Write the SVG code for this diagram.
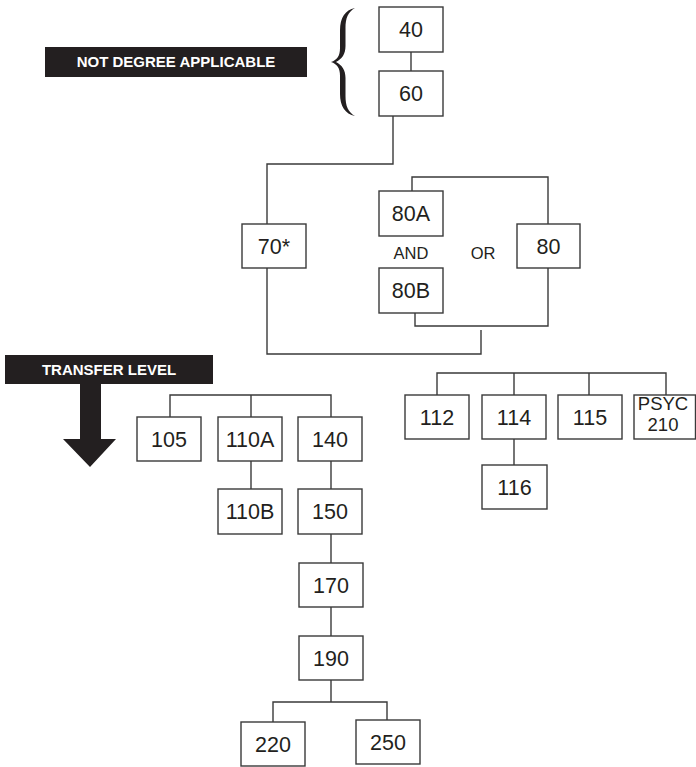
<svg xmlns="http://www.w3.org/2000/svg" width="696" height="767" viewBox="0 0 696 767">
<style>
.box{fill:#fff;stroke:#3a3a3a;stroke-width:1.4}
.num{font-family:"Liberation Sans",Arial,sans-serif;font-size:21.5px;fill:#231f20;text-anchor:middle}
.small{font-family:"Liberation Sans",Arial,sans-serif;font-size:18.5px;fill:#231f20;text-anchor:middle}
.lab{font-family:"Liberation Sans",Arial,sans-serif;font-size:16.5px;fill:#231f20;text-anchor:middle}
.band{fill:#231f20}
.bandtxt{font-family:"Liberation Sans",Arial,sans-serif;font-size:15px;font-weight:bold;fill:#fff;text-anchor:middle}
.conn path{fill:none;stroke:#3a3a3a;stroke-width:1.4}
</style>
<rect width="696" height="767" fill="#fff"/>
<g id="labels">
<g id="not-degree">
<rect class="band" x="45" y="47" width="262" height="30"/>
<text class="bandtxt" x="176" y="67.3">NOT DEGREE APPLICABLE</text>
</g>
<path id="brace" fill="#231f20" d="M355,8 C345,10 340,18 340,30 L340,48 C340,56 337,60 331,62 C337,64 340,68 340,76 L340,94 C340,106 345,114 355,116 C348,112 345.5,106 345.5,96 L345.5,78 C345.5,70 342,65 336,62 C342,59 345.5,54 345.5,46 L345.5,28 C345.5,18 348,12 355,8 Z"/>
<g id="transfer">
<rect class="band" x="5" y="355" width="208" height="29"/>
<text class="bandtxt" x="109" y="375">TRANSFER LEVEL</text>
<polygon class="band" points="80,384 101,384 101,439 116,439 90,467 63,439 80,439"/>
</g>
</g>
<g class="conn" id="connectors">
<path d="M411,52 V71"/>
<path d="M393,116 V164 H267 V224"/>
<path d="M267,268 V354 H481 V330"/>
<path d="M412,191 V177 H548 V224"/>
<path d="M415,313 V326 H548 V268"/>
<path d="M170,417 V395 H331 V417 M251,395 V417"/>
<path d="M251,461 V489"/>
<path d="M331,461 V489"/>
<path d="M331,534 V563"/>
<path d="M331,607 V636"/>
<path d="M331,680 V702 M273,722 V702 H387 V720"/>
<path d="M437,395 V373 H666 V395 M514,373 V395 M589,373 V395"/>
<path d="M514,439 V465"/>
</g>
<g id="n40"><rect class="box" x="379" y="7" width="64" height="45"/><text class="num" x="411" y="37.3">40</text></g>
<g id="n60"><rect class="box" x="379" y="71" width="64" height="45"/><text class="num" x="411" y="101.3">60</text></g>
<g id="n70"><rect class="box" x="242" y="224" width="64" height="44"/><text class="num" x="274" y="253.8">70*</text></g>
<g id="n80A"><rect class="box" x="379" y="191" width="64" height="45"/><text class="num" x="411" y="221.3">80A</text></g>
<g id="n80B"><rect class="box" x="379" y="268" width="64" height="45"/><text class="num" x="411" y="298.3">80B</text></g>
<g id="n80"><rect class="box" x="517" y="224" width="63" height="44"/><text class="num" x="548.5" y="253.8">80</text></g>
<text class="lab" x="411" y="259.3">AND</text>
<text class="lab" x="483" y="259.3">OR</text>
<g id="n105"><rect class="box" x="137" y="417" width="64" height="44"/><text class="num" x="169" y="446.8">105</text></g>
<g id="n110A"><rect class="box" x="218" y="417" width="64" height="44"/><text class="num" x="250" y="446.8">110A</text></g>
<g id="n140"><rect class="box" x="298" y="417" width="64" height="44"/><text class="num" x="330" y="446.8">140</text></g>
<g id="n110B"><rect class="box" x="218" y="489" width="64" height="45"/><text class="num" x="250" y="519.3">110B</text></g>
<g id="n150"><rect class="box" x="298" y="489" width="64" height="45"/><text class="num" x="330" y="519.3">150</text></g>
<g id="n170"><rect class="box" x="299" y="563" width="64" height="44"/><text class="num" x="331" y="592.8">170</text></g>
<g id="n190"><rect class="box" x="299" y="636" width="64" height="44"/><text class="num" x="331" y="665.8">190</text></g>
<g id="n220"><rect class="box" x="241" y="722" width="64" height="44"/><text class="num" x="273" y="751.8">220</text></g>
<g id="n250"><rect class="box" x="356" y="720" width="64" height="44"/><text class="num" x="388" y="749.8">250</text></g>
<g id="n112"><rect class="box" x="405" y="395" width="64" height="44"/><text class="num" x="437" y="424.8">112</text></g>
<g id="n114"><rect class="box" x="482" y="395" width="64" height="44"/><text class="num" x="514" y="424.8">114</text></g>
<g id="n115"><rect class="box" x="558" y="395" width="64" height="44"/><text class="num" x="590" y="424.8">115</text></g>
<g id="nPSYC210"><rect class="box" x="634" y="395" width="61.5" height="44"/><text class="small" x="663" y="410">PSYC</text><text class="small" x="663" y="431">210</text></g>
<g id="n116"><rect class="box" x="482" y="465" width="65" height="44"/><text class="num" x="514.5" y="494.8">116</text></g>
</svg>
